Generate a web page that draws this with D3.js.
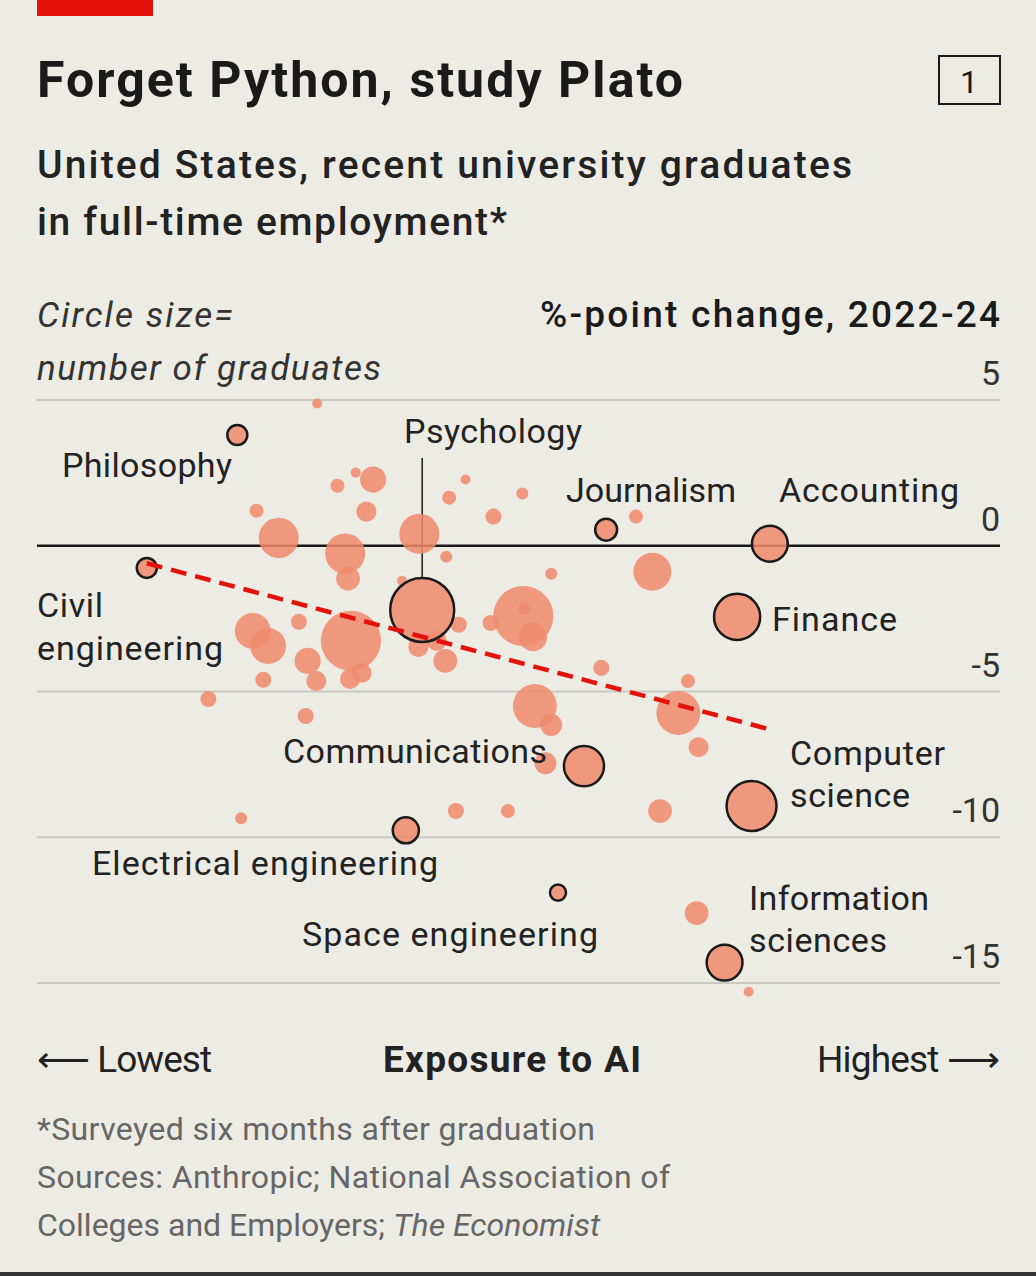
<!DOCTYPE html>
<html><head><meta charset="utf-8">
<script src="https://cdn.jsdelivr.net/npm/d3@7"></script>
<style>
body{margin:0;background:#ecebe4;}
svg{display:block;font-family:Roboto,"Noto Sans",sans-serif;}
</style></head>
<body><svg id="chart" width="1036" height="1276"></svg>
<script>
// exposure index (0-100), %-point change, graduates (thousands, relative)
const highlighted = [
  {name:"Philosophy", x:20.8, y:3.8, n:10},
  {name:"Psychology", x:40.0, y:-2.2, n:102},
  {name:"Journalism", x:59.1, y:0.55, n:12},
  {name:"Accounting", x:76.1, y:0.07, n:32},
  {name:"Civil engineering", x:11.4, y:-0.76, n:10},
  {name:"Finance", x:72.7, y:-2.44, n:53},
  {name:"Communications", x:56.8, y:-7.56, n:40},
  {name:"Computer science", x:74.2, y:-8.93, n:62},
  {name:"Electrical engineering", x:38.3, y:-9.76, n:17},
  {name:"Space engineering", x:54.1, y:-11.9, n:6.4},
  {name:"Information sciences", x:71.4, y:-14.3, n:32}
];
const others = [
  [29.1,4.88,2.5],[33.1,2.51,2.5],[34.9,2.27,17],[31.2,2.06,4.9],[34.2,1.17,10],
  [42.8,1.65,4.9],[44.5,2.27,2.5],[50.4,1.79,3.6],[47.4,1.0,6.4],[22.8,1.2,4.9],
  [25.1,0.27,40],[32.0,-0.27,40],[32.3,-1.13,14],[39.7,0.41,40],[42.5,-0.38,3.6],
  [62.2,1.0,4.9],[63.9,-0.89,36],[53.4,-0.96,3.6],[37.9,-1.2,2.5],[22.4,-2.92,32],
  [24.0,-3.44,32],[27.2,-2.61,6.4],[32.6,-3.26,90],[28.1,-3.95,17],[29.0,-4.64,10],
  [23.5,-4.6,6.4],[32.5,-4.57,10],[33.7,-4.36,10],[39.6,-3.47,10],[41.5,-3.26,10],
  [43.8,-2.71,6.4],[42.4,-3.95,14],[47.1,-2.65,6.4],[50.5,-2.41,90],[51.5,-3.13,20],
  [50.6,-2.16,3.6],[58.6,-4.19,6.4],[51.7,-5.5,48],[53.4,-6.15,12],[52.8,-7.46,12],
  [66.6,-5.74,48],[67.6,-4.64,4.9],[68.7,-6.91,10],[17.8,-5.26,6.4],[27.9,-5.84,6.4],
  [21.2,-9.35,3.6],[43.5,-9.1,6.4],[48.9,-9.1,4.9],[64.7,-9.1,14],[68.5,-12.6,14],
  [73.9,-15.3,2.5]
];
const trend = [[11.4,-0.6],[76.1,-6.3]];
const yTicks = [5, 0, -5, -10, -15];

const svg = d3.select("#chart");
const x = d3.scaleLinear().domain([0,100]).range([37,1000]);
const y = d3.scaleLinear().domain([5,-15]).range([400,983]);
const r = d3.scaleSqrt().domain([0,102]).range([0,32]);
const fill = "#f08a6c", dark = "#1a1a1a";

function txt(t, tx, ty, size, opts = {}) {
  const el = svg.append("text").attr("x",tx).attr("y",ty).attr("font-size",size)
    .attr("fill",opts.fill || "#222").text(t);
  if (opts.weight) el.attr("font-weight",opts.weight);
  if (opts.italic) el.attr("font-style","italic");
  if (opts.anchor) el.attr("text-anchor",opts.anchor);
  if (opts.len) el.attr("textLength",opts.len).attr("lengthAdjust","spacing");
  return el;
}

svg.append("rect").attr("x",37).attr("y",0).attr("width",116).attr("height",16).attr("fill","#e3120b");
txt("Forget Python, study Plato",37,97,50,{weight:700,fill:dark,len:646});
svg.append("rect").attr("x",939).attr("y",56).attr("width",61).attr("height",48)
  .attr("fill","none").attr("stroke",dark).attr("stroke-width",2);
txt("1",969,93,32,{anchor:"middle",fill:dark});
txt("United States, recent university graduates",37,178,39,{weight:500,len:815});
txt("in full-time employment*",37,235,39,{weight:500,len:470});
txt("Circle size=",37,327,35,{italic:true,fill:"#333",len:196});
txt("number of graduates",37,380,35,{italic:true,fill:"#333",len:344});
txt("%-point change, 2022-24",1000,327,37,{anchor:"end",weight:500,fill:dark,len:460});

// grid + ticks
yTicks.forEach(v=>{
  svg.append("line").attr("x1",37).attr("x2",1000).attr("y1",y(v)).attr("y2",y(v))
    .attr("stroke",v===0?dark:"#c9c8c1").attr("stroke-width",v===0?2.5:2);
  txt(v,1000,y(v)-15,34,{anchor:"end",fill:"#333"});
});

// psychology leader line
svg.append("line").attr("x1",x(40.0)).attr("x2",x(40.0)).attr("y1",458).attr("y2",y(-2.2)-r(102))
  .attr("stroke",dark).attr("stroke-width",1.5);

svg.append("g").selectAll("circle").data(others).join("circle")
  .attr("cx",d=>x(d[0])).attr("cy",d=>y(d[1])).attr("r",d=>r(d[2]))
  .attr("fill",fill).attr("fill-opacity",0.85);

svg.append("g").selectAll("circle").data(highlighted).join("circle")
  .attr("cx",d=>x(d.x)).attr("cy",d=>y(d.y)).attr("r",d=>r(d.n))
  .attr("fill",fill).attr("fill-opacity",0.85).attr("stroke",dark).attr("stroke-width",2.5);

svg.append("line").attr("x1",x(trend[0][0])).attr("y1",y(trend[0][1]))
  .attr("x2",x(trend[1][0])).attr("y2",y(trend[1][1]))
  .attr("stroke","#e3120b").attr("stroke-width",4.5).attr("stroke-dasharray","16,9");

// labels: text, x, baselines, widths
const labels = [
  ["Philosophy",62,[477],[170]],["Psychology",404,[443],[178]],["Journalism",566,[502],[170]],
  ["Accounting",779,[502],[180]],["Civil|engineering",37,[617,660],[66,186]],["Finance",772,[631],[125]],
  ["Communications",283,[763],[264]],["Computer|science",790,[765,807],[155,120]],
  ["Electrical engineering",92,[875],[346]],["Space engineering",302,[946],[296]],
  ["Information|sciences",749,[910,952],[180,138]]
];
labels.forEach(([t,lx,ys,ws])=>t.split("|").forEach((s,i)=>
  txt(s,lx,ys[i],34,{len:ws[i]})));

txt("⟵ Lowest",37,1072,37,{len:175});
txt("Exposure to AI",512,1072,37,{anchor:"middle",weight:700,len:258});
txt("Highest ⟶",1000,1072,37,{anchor:"end",len:183});

txt("*Surveyed six months after graduation",37,1140,32,{fill:"#666",len:558});
txt("Sources: Anthropic; National Association of",37,1188,32,{fill:"#666",len:633});
const last = txt("",37,1236,32,{fill:"#666"});
last.append("tspan").text("Colleges and Employers; ");
last.append("tspan").attr("font-style","italic").text("The Economist");
svg.append("rect").attr("x",0).attr("y",1272).attr("width",1036).attr("height",4).attr("fill","#333");
</script></body></html>
